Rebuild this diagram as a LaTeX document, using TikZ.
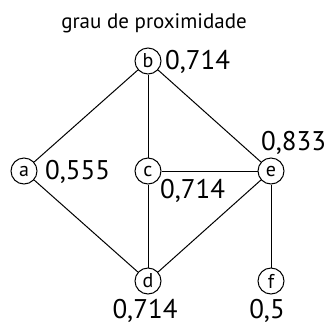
\documentclass[tikz,border=0pt]{standalone}
\usepackage{fontspec}
\setmainfont{PT Sans}
\begin{document}
\begin{tikzpicture}[x=1pt,y=-1pt,
  vtx/.style={circle,draw,line width=1pt,minimum size=26pt,inner sep=0pt,font=\fontsize{20}{20}\selectfont},
  num/.style={font=\fontsize{27}{27}\selectfont,inner sep=0pt},
  edge/.style={line width=1pt}]
\useasboundingbox (0,0) rectangle (329,325);
\node[font=\fontsize{21}{21}\selectfont] (title) at (154,23) {grau de proximidade};
\node[vtx] (b) at (148,61) {b};
\node[vtx] (a) at (24,171) {a};
\node[vtx] (c) at (148,171) {c};
\node[vtx] (e) at (271,171) {e};
\node[vtx] (d) at (148,281) {d};
\node[vtx] (f) at (271,281) {f};
\draw[edge] (a) -- (b);
\draw[edge] (b) -- (c);
\draw[edge] (b) -- (e);
\draw[edge] (a) -- (d);
\draw[edge] (c) -- (d);
\draw[edge] (c) -- (e);
\draw[edge] (d) -- (e);
\draw[edge] (e) -- (f);
\node[num,anchor=west] (lb) at (165,62) {0,714};
\node[num,anchor=west] (la) at (45,172) {0,555};
\node[num,anchor=west] (lc) at (160,191) {0,714};
\node[num,anchor=west] (le) at (261,143) {0,833};
\node[num] (ld) at (145,311) {0,714};
\node[num] (lf) at (267,311) {0,5};
\end{tikzpicture}
\end{document}
